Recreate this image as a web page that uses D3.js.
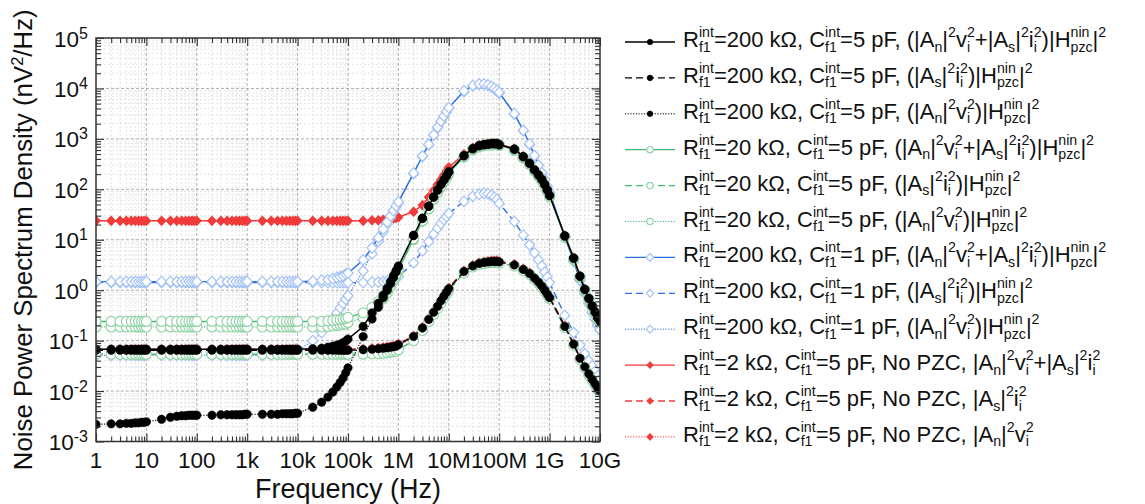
<!DOCTYPE html>
<html lang="en">
<head>
<meta charset="utf-8">
<title>Noise Power Spectrum Density</title>
<script src="https://cdn.jsdelivr.net/npm/d3@7"></script>
<style>
    body { margin: 0; background: #fff; }
    svg { display: block; font-family: "Liberation Sans", Arial, sans-serif; }
    svg text { white-space: pre; fill: #111; }
</style>
</head>
<body>
<svg id="chart" width="1145" height="504"></svg>
<script>
// frequency points (Hz), markers sit on every one of them
const freqs = [
    1, 2, 3, 4, 5, 6, 7, 8, 9,
    1e1, 2e1, 3e1, 4e1, 5e1, 6e1, 7e1, 8e1, 9e1,
    1e2, 2e2, 3e2, 4e2, 5e2, 6e2, 7e2, 8e2, 9e2,
    1e3, 2e3, 3e3, 4e3, 5e3, 6e3, 7e3, 8e3, 9e3,
    1e4, 2e4, 3e4, 4e4, 5e4, 6e4, 7e4, 8e4, 9e4,
    1e5, 2e5, 3e5, 4e5, 5e5, 6e5, 7e5, 8e5, 9e5,
    1e6, 2e6, 3e6, 4e6, 5e6, 6e6, 7e6, 8e6, 9e6,
    1e7, 2e7, 3e7, 4e7, 5e7, 6e7, 7e7, 8e7, 9e7,
    1e8, 2e8, 3e8, 4e8, 5e8, 6e8, 7e8, 8e8, 9e8,
    1e9, 2e9, 3e9, 4e9, 5e9, 6e9, 7e9, 8e9, 9e9,
    1e10
];

// all series below: log10 of PSD in nV^2/Hz
const black200kTotal = [
    -1.17, -1.17, -1.17, -1.17, -1.17, -1.17, -1.17, -1.17, -1.17,
    -1.17, -1.17, -1.17, -1.17, -1.17, -1.17, -1.17, -1.17, -1.17,
    -1.17, -1.17, -1.17, -1.17, -1.17, -1.17, -1.17, -1.17, -1.17,
    -1.17, -1.17, -1.17, -1.17, -1.17, -1.17, -1.17, -1.17, -1.17,
    -1.17, -1.16, -1.15, -1.13, -1.11, -1.09, -1.07, -1.04, -1.01,
    -0.97, -0.72, -0.45, -0.26, -0.10, 0.04, 0.17, 0.29, 0.39,
    0.48, 1.09, 1.43, 1.67, 1.85, 1.99, 2.10, 2.19, 2.27,
    2.35, 2.67, 2.81, 2.87, 2.89, 2.90, 2.91, 2.91, 2.91,
    2.89, 2.80, 2.65, 2.52, 2.39, 2.29, 2.20, 2.10, 1.99,
    1.88, 1.08, 0.64, 0.28, 0.02, -0.16, -0.31, -0.43, -0.54,
    -0.60
];
const black200kCurrent = [
    -1.19, -1.19, -1.19, -1.19, -1.19, -1.19, -1.19, -1.19, -1.19,
    -1.19, -1.19, -1.19, -1.19, -1.19, -1.19, -1.19, -1.19, -1.19,
    -1.19, -1.19, -1.19, -1.19, -1.19, -1.19, -1.19, -1.19, -1.19,
    -1.19, -1.19, -1.19, -1.19, -1.19, -1.19, -1.19, -1.19, -1.19,
    -1.19, -1.19, -1.19, -1.19, -1.19, -1.19, -1.19, -1.19, -1.19,
    -1.19, -1.18, -1.17, -1.16, -1.15, -1.14, -1.13, -1.12, -1.11,
    -1.08, -0.92, -0.75, -0.58, -0.44, -0.32, -0.21, -0.12, -0.04,
    0.03, 0.37, 0.48, 0.53, 0.55, 0.56, 0.57, 0.57, 0.57,
    0.56, 0.50, 0.41, 0.33, 0.24, 0.16, 0.08, 0.00, -0.08,
    -0.15, -0.72, -1.07, -1.35, -1.52, -1.66, -1.77, -1.86, -1.94,
    -2.00
];
const black200kVoltage = [
    -2.66, -2.65, -2.65, -2.64, -2.64, -2.63, -2.63, -2.62, -2.62,
    -2.61, -2.56, -2.52, -2.50, -2.49, -2.49, -2.48, -2.48, -2.48,
    -2.48, -2.48, -2.47, -2.47, -2.47, -2.47, -2.47, -2.47, -2.46,
    -2.46, -2.46, -2.46, -2.46, -2.45, -2.45, -2.45, -2.45, -2.44,
    -2.44, -2.32, -2.22, -2.12, -2.02, -1.92, -1.83, -1.74, -1.64,
    -1.54, -0.92, -0.57, -0.34, -0.15, 0.00, 0.13, 0.25, 0.36,
    0.46, 1.08, 1.42, 1.66, 1.84, 1.98, 2.09, 2.18, 2.26,
    2.34, 2.66, 2.80, 2.86, 2.88, 2.89, 2.90, 2.90, 2.90,
    2.88, 2.79, 2.64, 2.51, 2.38, 2.28, 2.19, 2.09, 1.98,
    1.87, 1.07, 0.63, 0.27, 0.01, -0.17, -0.32, -0.44, -0.55,
    -0.62
];
const green20kTotal = [
    -0.62, -0.62, -0.62, -0.62, -0.62, -0.62, -0.62, -0.62, -0.62,
    -0.62, -0.62, -0.62, -0.62, -0.62, -0.62, -0.62, -0.62, -0.62,
    -0.62, -0.62, -0.62, -0.62, -0.62, -0.62, -0.62, -0.62, -0.62,
    -0.62, -0.62, -0.62, -0.62, -0.62, -0.62, -0.62, -0.62, -0.62,
    -0.62, -0.62, -0.62, -0.61, -0.60, -0.59, -0.58, -0.57, -0.56,
    -0.54, -0.45, -0.34, -0.23, -0.11, 0.01, 0.12, 0.23, 0.32,
    0.41, 1.02, 1.38, 1.62, 1.81, 1.95, 2.06, 2.16, 2.24,
    2.32, 2.65, 2.79, 2.85, 2.88, 2.89, 2.89, 2.90, 2.90,
    2.88, 2.78, 2.63, 2.50, 2.37, 2.27, 2.18, 2.08, 1.97,
    1.86, 1.06, 0.62, 0.26, 0.00, -0.18, -0.33, -0.45, -0.56,
    -0.63
];
const green20kCurrent = [
    -1.27, -1.27, -1.27, -1.27, -1.27, -1.27, -1.27, -1.27, -1.27,
    -1.27, -1.27, -1.27, -1.27, -1.27, -1.27, -1.27, -1.27, -1.27,
    -1.27, -1.27, -1.27, -1.27, -1.27, -1.27, -1.27, -1.27, -1.27,
    -1.27, -1.27, -1.27, -1.27, -1.27, -1.27, -1.27, -1.27, -1.27,
    -1.27, -1.27, -1.27, -1.27, -1.27, -1.27, -1.27, -1.27, -1.27,
    -1.27, -1.27, -1.26, -1.26, -1.25, -1.24, -1.23, -1.22, -1.21,
    -1.18, -1.00, -0.80, -0.62, -0.48, -0.36, -0.25, -0.15, -0.07,
    0.00, 0.34, 0.46, 0.51, 0.53, 0.54, 0.55, 0.55, 0.55,
    0.54, 0.48, 0.39, 0.31, 0.22, 0.14, 0.06, -0.02, -0.10,
    -0.17, -0.74, -1.09, -1.37, -1.54, -1.68, -1.79, -1.88, -1.96,
    -2.02
];
const green20kVoltage = [
    -0.73, -0.73, -0.73, -0.73, -0.73, -0.73, -0.73, -0.73, -0.73,
    -0.73, -0.73, -0.73, -0.73, -0.73, -0.73, -0.73, -0.73, -0.73,
    -0.73, -0.73, -0.73, -0.73, -0.73, -0.73, -0.73, -0.73, -0.73,
    -0.73, -0.73, -0.73, -0.73, -0.73, -0.73, -0.73, -0.73, -0.73,
    -0.73, -0.73, -0.73, -0.72, -0.71, -0.70, -0.69, -0.68, -0.67,
    -0.64, -0.55, -0.43, -0.30, -0.17, -0.05, 0.07, 0.19, 0.29,
    0.38, 1.00, 1.37, 1.61, 1.80, 1.94, 2.05, 2.15, 2.23,
    2.31, 2.64, 2.78, 2.84, 2.87, 2.88, 2.88, 2.89, 2.89,
    2.87, 2.77, 2.62, 2.49, 2.36, 2.26, 2.17, 2.07, 1.96,
    1.85, 1.05, 0.61, 0.25, -0.01, -0.19, -0.34, -0.46, -0.57,
    -0.64
];
const blue1pTotal = [
    0.17, 0.17, 0.17, 0.17, 0.17, 0.17, 0.17, 0.17, 0.17,
    0.17, 0.17, 0.17, 0.17, 0.17, 0.17, 0.17, 0.17, 0.17,
    0.17, 0.17, 0.17, 0.17, 0.17, 0.17, 0.17, 0.17, 0.17,
    0.17, 0.17, 0.17, 0.17, 0.17, 0.17, 0.17, 0.17, 0.17,
    0.17, 0.18, 0.20, 0.21, 0.23, 0.25, 0.27, 0.29, 0.32,
    0.34, 0.60, 0.84, 1.04, 1.21, 1.35, 1.47, 1.58, 1.67,
    1.75, 2.32, 2.66, 2.89, 3.08, 3.23, 3.35, 3.45, 3.54,
    3.62, 3.95, 4.06, 4.09, 4.09, 4.07, 4.04, 4.00, 3.96,
    3.92, 3.50, 3.17, 2.90, 2.67, 2.48, 2.33, 2.19, 2.06,
    1.94, 1.06, 0.58, 0.20, -0.06, -0.26, -0.43, -0.57, -0.69,
    -0.78
];
const blue1pCurrent = [
    0.15, 0.15, 0.15, 0.15, 0.15, 0.15, 0.15, 0.15, 0.15,
    0.15, 0.15, 0.15, 0.15, 0.15, 0.15, 0.15, 0.15, 0.15,
    0.15, 0.15, 0.15, 0.15, 0.15, 0.15, 0.15, 0.15, 0.15,
    0.15, 0.15, 0.15, 0.15, 0.15, 0.15, 0.15, 0.15, 0.15,
    0.15, 0.15, 0.15, 0.15, 0.15, 0.15, 0.15, 0.15, 0.15,
    0.15, 0.15, 0.16, 0.16, 0.17, 0.18, 0.19, 0.21, 0.23,
    0.27, 0.54, 0.78, 0.96, 1.11, 1.23, 1.32, 1.40, 1.46,
    1.52, 1.76, 1.86, 1.90, 1.92, 1.91, 1.88, 1.84, 1.80,
    1.72, 1.36, 1.09, 0.90, 0.74, 0.60, 0.48, 0.36, 0.26,
    0.15, -0.50, -0.84, -1.09, -1.26, -1.40, -1.50, -1.60, -1.70,
    -1.78
];
const blue1pVoltage = [
    -1.29, -1.29, -1.29, -1.29, -1.29, -1.29, -1.29, -1.29, -1.29,
    -1.29, -1.29, -1.29, -1.29, -1.29, -1.29, -1.29, -1.29, -1.29,
    -1.29, -1.29, -1.29, -1.29, -1.29, -1.29, -1.29, -1.29, -1.29,
    -1.29, -1.29, -1.28, -1.28, -1.27, -1.26, -1.25, -1.24, -1.23,
    -1.20, -1.00, -0.84, -0.69, -0.57, -0.45, -0.35, -0.26, -0.18,
    -0.11, 0.38, 0.72, 0.97, 1.16, 1.31, 1.44, 1.55, 1.65,
    1.73, 2.31, 2.65, 2.88, 3.07, 3.22, 3.34, 3.44, 3.53,
    3.61, 3.94, 4.05, 4.08, 4.08, 4.06, 4.03, 3.99, 3.95,
    3.91, 3.49, 3.16, 2.89, 2.66, 2.47, 2.32, 2.18, 2.05,
    1.93, 1.05, 0.57, 0.19, -0.07, -0.27, -0.44, -0.58, -0.70,
    -0.79
];
const red2kTotal = [
    1.38, 1.38, 1.38, 1.38, 1.38, 1.38, 1.38, 1.38, 1.38,
    1.38, 1.38, 1.38, 1.38, 1.38, 1.38, 1.38, 1.38, 1.38,
    1.38, 1.38, 1.38, 1.38, 1.38, 1.38, 1.38, 1.38, 1.38,
    1.38, 1.38, 1.38, 1.38, 1.38, 1.38, 1.38, 1.38, 1.38,
    1.38, 1.38, 1.38, 1.38, 1.38, 1.38, 1.38, 1.38, 1.38,
    1.38, 1.38, 1.39, 1.39, 1.40, 1.41, 1.42, 1.43, 1.44,
    1.45, 1.56, 1.69, 1.85, 1.98, 2.10, 2.20, 2.29, 2.37,
    2.44, 2.70, 2.83, 2.88, 2.90, 2.91, 2.92, 2.92, 2.92,
    2.90, 2.81, 2.66, 2.53, 2.40, 2.30, 2.21, 2.11, 2.00,
    1.89, 1.09, 0.65, 0.29, 0.03, -0.15, -0.30, -0.42, -0.53,
    -0.59
];
const red2kCurrent = [
    -1.17, -1.17, -1.17, -1.17, -1.17, -1.17, -1.17, -1.17, -1.17,
    -1.17, -1.17, -1.17, -1.17, -1.17, -1.17, -1.17, -1.17, -1.17,
    -1.17, -1.17, -1.17, -1.17, -1.17, -1.17, -1.17, -1.17, -1.17,
    -1.17, -1.17, -1.17, -1.17, -1.17, -1.17, -1.17, -1.17, -1.17,
    -1.17, -1.17, -1.17, -1.17, -1.17, -1.17, -1.17, -1.17, -1.17,
    -1.17, -1.16, -1.15, -1.14, -1.13, -1.12, -1.11, -1.10, -1.09,
    -1.06, -0.90, -0.73, -0.56, -0.42, -0.30, -0.19, -0.10, -0.02,
    0.05, 0.39, 0.50, 0.55, 0.57, 0.58, 0.59, 0.59, 0.59,
    0.58, 0.52, 0.43, 0.35, 0.26, 0.18, 0.10, 0.02, -0.06,
    -0.13, -0.70, -1.05, -1.33, -1.50, -1.64, -1.75, -1.84, -1.92,
    -1.98
];
const red2kVoltage = [
    1.37, 1.37, 1.37, 1.37, 1.37, 1.37, 1.37, 1.37, 1.37,
    1.37, 1.37, 1.37, 1.37, 1.37, 1.37, 1.37, 1.37, 1.37,
    1.37, 1.37, 1.37, 1.37, 1.37, 1.37, 1.37, 1.37, 1.37,
    1.37, 1.37, 1.37, 1.37, 1.37, 1.37, 1.37, 1.37, 1.37,
    1.37, 1.37, 1.37, 1.37, 1.37, 1.37, 1.37, 1.37, 1.37,
    1.37, 1.37, 1.38, 1.38, 1.39, 1.40, 1.41, 1.42, 1.43,
    1.44, 1.55, 1.68, 1.84, 1.97, 2.09, 2.19, 2.28, 2.36,
    2.43, 2.69, 2.82, 2.87, 2.89, 2.90, 2.91, 2.91, 2.91,
    2.89, 2.80, 2.65, 2.52, 2.39, 2.29, 2.20, 2.10, 1.99,
    1.88, 1.08, 0.64, 0.28, 0.02, -0.16, -0.31, -0.43, -0.54,
    -0.60
];

const xTickValues = [1, 1e1, 1e2, 1e3, 1e4, 1e5, 1e6, 1e7, 1e8, 1e9, 1e10];
const xTickLabels = ["1", "10", "100", "1k", "10k", "100k", "1M", "10M", "100M", "1G", "10G"];
const yTickValues = [1e-3, 1e-2, 1e-1, 1, 1e1, 1e2, 1e3, 1e4, 1e5];
const yTickLabels = ["10^{-3}", "10^{-2}", "10^{-1}", "10^{0}", "10^{1}", "10^{2}", "10^{3}", "10^{4}", "10^{5}"];

const legendLabels = [
    "R^{int}_{f1}=200 kΩ, C^{int}_{f1}=5 pF, (|A_{n}|^{2}v_{i}^{2}+|A_{s}|^{2}i_{i}^{2})|H^{nin}_{pzc}|^{2}",
    "R^{int}_{f1}=200 kΩ, C^{int}_{f1}=5 pF, (|A_{s}|^{2}i_{i}^{2})|H^{nin}_{pzc}|^{2}",
    "R^{int}_{f1}=200 kΩ, C^{int}_{f1}=5 pF, (|A_{n}|^{2}v_{i}^{2})|H^{nin}_{pzc}|^{2}",
    "R^{int}_{f1}=20 kΩ, C^{int}_{f1}=5 pF, (|A_{n}|^{2}v_{i}^{2}+|A_{s}|^{2}i_{i}^{2})|H^{nin}_{pzc}|^{2}",
    "R^{int}_{f1}=20 kΩ, C^{int}_{f1}=5 pF, (|A_{s}|^{2}i_{i}^{2})|H^{nin}_{pzc}|^{2}",
    "R^{int}_{f1}=20 kΩ, C^{int}_{f1}=5 pF, (|A_{n}|^{2}v_{i}^{2})|H^{nin}_{pzc}|^{2}",
    "R^{int}_{f1}=200 kΩ, C^{int}_{f1}=1 pF, (|A_{n}|^{2}v_{i}^{2}+|A_{s}|^{2}i_{i}^{2})|H^{nin}_{pzc}|^{2}",
    "R^{int}_{f1}=200 kΩ, C^{int}_{f1}=1 pF, (|A_{s}|^{2}i_{i}^{2})|H^{nin}_{pzc}|^{2}",
    "R^{int}_{f1}=200 kΩ, C^{int}_{f1}=1 pF, (|A_{n}|^{2}v_{i}^{2})|H^{nin}_{pzc}|^{2}",
    "R^{int}_{f1}=2 kΩ, C^{int}_{f1}=5 pF, No PZC, |A_{n}|^{2}v_{i}^{2}+|A_{s}|^{2}i_{i}^{2}",
    "R^{int}_{f1}=2 kΩ, C^{int}_{f1}=5 pF, No PZC, |A_{s}|^{2}i_{i}^{2}",
    "R^{int}_{f1}=2 kΩ, C^{int}_{f1}=5 pF, No PZC, |A_{n}|^{2}v_{i}^{2}"
];

const BLACK = "#000000", GREEN = "#46b874", GREEN_MK = "#93d3a8",
      BLUE = "#2f6fdf", BLUE_MK = "#a3c2f3", RED = "#f03b3b";
const SOLID = null, DASHED = "7,4", DOTTED = "1.2,1.5";

const series = [
    {values: black200kTotal, color: BLACK, dash: SOLID, marker: "dot", mk: BLACK},
    {values: black200kCurrent, color: BLACK, dash: DASHED, marker: "dot", mk: BLACK},
    {values: black200kVoltage, color: BLACK, dash: DOTTED, marker: "dot", mk: BLACK},
    {values: green20kTotal, color: GREEN, dash: SOLID, marker: "ring", mk: GREEN_MK},
    {values: green20kCurrent, color: GREEN, dash: DASHED, marker: "ring", mk: GREEN_MK},
    {values: green20kVoltage, color: GREEN, dash: DOTTED, marker: "ring", mk: GREEN_MK},
    {values: blue1pTotal, color: BLUE, dash: SOLID, marker: "openDiamond", mk: BLUE_MK},
    {values: blue1pCurrent, color: BLUE, dash: DASHED, marker: "openDiamond", mk: BLUE_MK},
    {values: blue1pVoltage, color: BLUE, dash: DOTTED, marker: "openDiamond", mk: BLUE_MK},
    {values: red2kTotal, color: RED, dash: SOLID, marker: "diamond", mk: RED},
    {values: red2kCurrent, color: RED, dash: DASHED, marker: "diamond", mk: RED},
    {values: red2kVoltage, color: RED, dash: DOTTED, marker: "diamond", mk: RED}
];

const svg = d3.select("#chart");
const plot = {left: 96, right: 600, top: 38, bottom: 441.5};

const x = d3.scaleLog().domain([1, 1e10]).range([plot.left, plot.right]);
const y = d3.scaleLog().domain([1e-3, 1e5]).range([plot.bottom, plot.top]);

// text with ^{sup} and _{sub}; a sup next to a sub is stacked
function richText(parent, str, o) {
    const g = parent.append("g");
    const tokens = str.match(/\^\{[^}]*\}|_\{[^}]*\}|[^^_]+/g);
    let cx = 0;
    for (let i = 0; i < tokens.length; i++) {
        const t = tokens[i];
        const isSup = t.startsWith("^{"), isSub = t.startsWith("_{");
        if (!isSup && !isSub) {
            const el = g.append("text").attr("x", cx).attr("y", 0).attr("font-size", o.size).text(t);
            cx += el.node().getComputedTextLength();
            continue;
        }
        let sup = isSup ? t.slice(2, -1) : null;
        let sub = isSub ? t.slice(2, -1) : null;
        const nxt = tokens[i + 1];
        if (nxt && ((isSup && nxt.startsWith("_{")) || (isSub && nxt.startsWith("^{")))) {
            if (isSup) sub = nxt.slice(2, -1); else sup = nxt.slice(2, -1);
            i++;
        }
        let w = 0;
        if (sup !== null) {
            const el = g.append("text").attr("x", cx).attr("y", o.supDy).attr("font-size", o.small).text(sup);
            w = Math.max(w, el.node().getComputedTextLength());
        }
        if (sub !== null) {
            const el = g.append("text").attr("x", cx).attr("y", o.subDy).attr("font-size", o.small).text(sub);
            w = Math.max(w, el.node().getComputedTextLength());
        }
        cx += w;
    }
    return {g: g, width: cx};
}

// grid
const minorX = [], minorY = [];
for (let k = 0; k < 10; k++) for (let m = 2; m <= 9; m++) minorX.push(m * Math.pow(10, k));
for (let k = -3; k < 5; k++) for (let m = 2; m <= 9; m++) minorY.push(m * Math.pow(10, k));

const grid = svg.append("g");
grid.selectAll(".gx-minor").data(minorX).join("line")
    .attr("x1", d => x(d)).attr("x2", d => x(d)).attr("y1", plot.top).attr("y2", plot.bottom)
    .attr("stroke", "#d9d9d9").attr("stroke-width", 0.7).attr("stroke-dasharray", "2,2");
grid.selectAll(".gy-minor").data(minorY).join("line")
    .attr("x1", plot.left).attr("x2", plot.right).attr("y1", d => y(d)).attr("y2", d => y(d))
    .attr("stroke", "#d9d9d9").attr("stroke-width", 0.7).attr("stroke-dasharray", "2,2");
grid.selectAll(".gx-major").data(xTickValues.slice(1, -1)).join("line")
    .attr("x1", d => x(d)).attr("x2", d => x(d)).attr("y1", plot.top).attr("y2", plot.bottom)
    .attr("stroke", "#9a9a9a").attr("stroke-width", 0.8).attr("stroke-dasharray", "3,2");
grid.selectAll(".gy-major").data(yTickValues.slice(1, -1)).join("line")
    .attr("x1", plot.left).attr("x2", plot.right).attr("y1", d => y(d)).attr("y2", d => y(d))
    .attr("stroke", "#9a9a9a").attr("stroke-width", 0.8).attr("stroke-dasharray", "3,2");

// series
svg.append("clipPath").attr("id", "plot-clip").append("rect")
    .attr("x", plot.left).attr("y", plot.top)
    .attr("width", plot.right - plot.left).attr("height", plot.bottom - plot.top);

function markerPath(kind, s) {
    if (kind === "dot" || kind === "ring") return d3.symbol(d3.symbolCircle, Math.PI * s * s)();
    const w = s * 0.95;
    return `M0,${-s}L${w},0L0,${s}L${-w},0Z`;
}
function styleMarker(sel, d, s) {
    const open = d.marker === "ring" || d.marker === "openDiamond";
    sel.attr("d", markerPath(d.marker, s))
        .attr("fill", open ? "#fff" : d.mk)
        .attr("stroke", d.mk)
        .attr("stroke-width", open ? 1.2 : 0.6);
}

const plotSize = {dot: 4.2, ring: 5, openDiamond: 5.3, diamond: 4.7};
const line = d3.line().x(d => x(d.f)).y(d => y(d.v));
const plotLayer = svg.append("g").attr("clip-path", "url(#plot-clip)");

series.slice().reverse().forEach(s => {
    const pts = freqs.map((f, i) => ({f: f, v: Math.pow(10, s.values[i])}));
    const g = plotLayer.append("g");
    g.append("path").datum(pts).attr("d", line)
        .attr("fill", "none").attr("stroke", s.color)
        .attr("stroke-width", s.dash === DOTTED ? 1.1 : 1.4)
        .attr("stroke-dasharray", s.dash);
    g.selectAll("path.mk").data(pts).join("path").attr("class", "mk")
        .attr("transform", d => `translate(${x(d.f)},${y(d.v)})`)
        .call(sel => styleMarker(sel, s, plotSize[s.marker]));
});

// frame and ticks
svg.append("rect")
    .attr("x", plot.left).attr("y", plot.top)
    .attr("width", plot.right - plot.left).attr("height", plot.bottom - plot.top)
    .attr("fill", "none").attr("stroke", "#333").attr("stroke-width", 1.5);

function tickAxis(axisFn, scale, values, size, transform) {
    const g = svg.append("g").attr("transform", transform)
        .call(axisFn(scale).tickValues(values).tickSize(-size).tickSizeOuter(0).tickFormat(() => ""));
    g.select(".domain").remove();
    g.selectAll(".tick line").attr("stroke", "#333").attr("stroke-width", 1.1);
}
tickAxis(d3.axisBottom, x, xTickValues, 8, `translate(0,${plot.bottom})`);
tickAxis(d3.axisBottom, x, minorX, 5, `translate(0,${plot.bottom})`);
tickAxis(d3.axisTop, x, xTickValues, 8, `translate(0,${plot.top})`);
tickAxis(d3.axisTop, x, minorX, 5, `translate(0,${plot.top})`);
tickAxis(d3.axisLeft, y, yTickValues, 8, `translate(${plot.left},0)`);
tickAxis(d3.axisLeft, y, minorY, 5, `translate(${plot.left},0)`);
tickAxis(d3.axisRight, y, yTickValues, 8, `translate(${plot.right},0)`);
tickAxis(d3.axisRight, y, minorY, 5, `translate(${plot.right},0)`);

// tick labels
svg.append("g").selectAll("text").data(xTickValues).join("text")
    .attr("x", d => x(d)).attr("y", plot.bottom + 26)
    .attr("text-anchor", "middle").attr("font-size", 22.5)
    .text((d, i) => xTickLabels[i]);

yTickValues.forEach((v, i) => {
    const r = richText(svg, yTickLabels[i], {size: 22.5, small: 16, supDy: -8, subDy: 4});
    r.g.attr("transform", `translate(${88 - r.width},${y(v) + 8.5})`);
});

// axis titles
svg.append("text").attr("x", (plot.left + plot.right) / 2).attr("y", 497.5)
    .attr("text-anchor", "middle").attr("font-size", 27).text("Frequency (Hz)");

const yTitle = svg.append("g").attr("transform", `translate(32,${(plot.top + plot.bottom) / 2}) rotate(-90)`);
const yt = richText(yTitle, "Noise Power Spectrum Density (nV^{2}/Hz)", {size: 25.8, small: 16.5, supDy: -9.5, subDy: 4});
yt.g.attr("transform", `translate(${-yt.width / 2},0)`);

// legend
const legendSize = {dot: 2.8, ring: 3.2, openDiamond: 3.9, diamond: 3.6};
const legend = svg.append("g");
series.forEach((s, i) => {
    const cy = 42 + i * 35.9;
    const row = legend.append("g");
    row.append("line").attr("x1", 625).attr("x2", 675).attr("y1", cy).attr("y2", cy)
        .attr("stroke", s.color).attr("stroke-width", s.dash === DOTTED ? 1 : 1.3)
        .attr("stroke-dasharray", s.dash);
    row.append("path").attr("transform", `translate(650,${cy})`)
        .call(sel => styleMarker(sel, s, legendSize[s.marker]));
    const r = richText(row, legendLabels[i], {size: 22, small: 14.2, supDy: -10, subDy: 4.5});
    r.g.attr("transform", `translate(683,${cy + 5})`);
});
</script>
</body>
</html>
